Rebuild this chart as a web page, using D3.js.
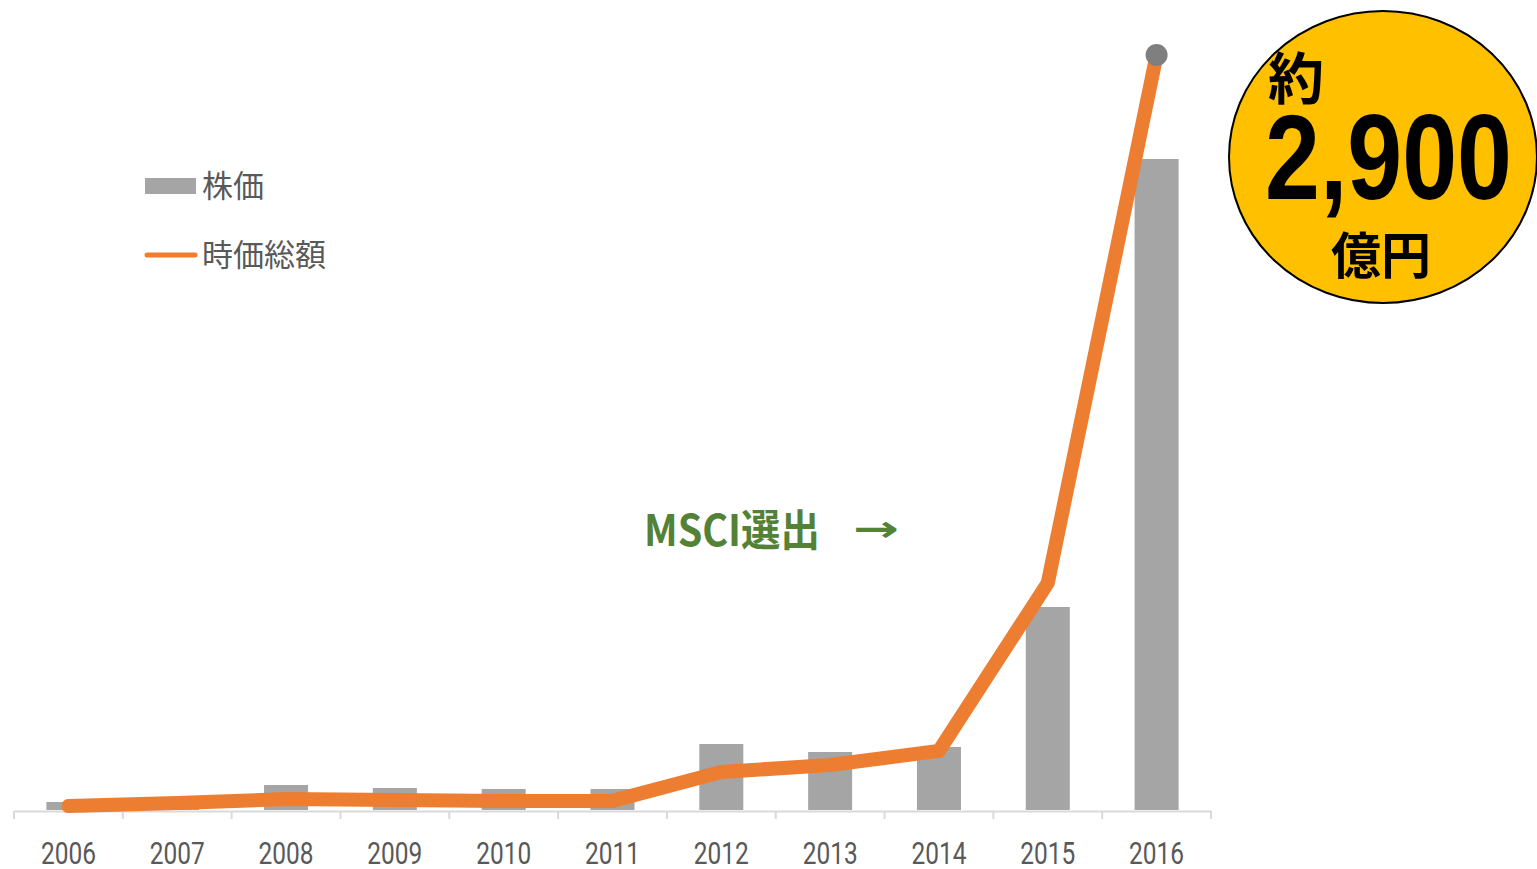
<!DOCTYPE html>
<html>
<head>
<meta charset="utf-8">
<script src="https://cdn.jsdelivr.net/npm/d3@7"></script>
<style>
  body { margin: 0; background: #fff; }
  svg { display: block; }
</style>
</head>
<body>
<script>
const w = 1537, h = 869

const years = ['2006', '2007', '2008', '2009', '2010', '2011', '2012', '2013', '2014', '2015', '2016']
// 株価 (relative)
const price = [80, 50, 250, 220, 210, 210, 660, 580, 630, 2030, 6510]
// 時価総額 (億円)
const marketCap = [15, 27, 42, 38, 35, 35, 146, 173, 227, 872, 2900]
const legendData = ['株価', '時価総額']

const svg = d3.select('body')
    .append('svg')
    .attr('width', w)
    .attr('height', h)

const baseY = 810
const band = d3.scaleBand().domain(years).range([14, 1211])

const yBar = d3.scaleLinear()
    .domain([0, 6510])
    .range([baseY, 159])

const yLine = d3.scaleLinear()
    .domain([0, 2900])
    .range([baseY, 55])

// bars
svg.selectAll('.bar')
    .data(years)
    .enter()
    .append('rect')
    .attr('class', 'bar')
    .attr('x', d => band(d) + band.bandwidth() / 2 - 22)
    .attr('width', 44)
    .attr('y', (d, i) => yBar(price[i]))
    .attr('height', (d, i) => baseY - yBar(price[i]))
    .attr('fill', '#a5a5a5')

// axis
const xAxis = d3.axisBottom(band).tickSize(0).tickPadding(31)
const gx = svg.append('g')
    .attr('transform', 'translate(0,' + (baseY + 1) + ')')
    .call(xAxis)
gx.select('.domain').attr('stroke', '#d9d9d9').attr('stroke-width', 2)
gx.selectAll('.tick text')
    .attr('fill', '#595959')
    .attr('textLength', 55)
    .attr('lengthAdjust', 'spacingAndGlyphs')
    .style('font-family', 'Roboto, sans-serif')
    .style('font-size', '31px')
gx.selectAll('.sep')
    .data(years.concat(['end']))
    .enter()
    .append('line')
    .attr('x1', (d, i) => i < years.length ? band(d) : band.range()[1])
    .attr('x2', (d, i) => i < years.length ? band(d) : band.range()[1])
    .attr('y1', 0)
    .attr('y2', 8)
    .attr('stroke', '#d9d9d9')
    .attr('stroke-width', 2)

// line
const line = d3.line()
    .x((d, i) => band(years[i]) + band.bandwidth() / 2)
    .y(d => yLine(d))

svg.append('path')
    .datum(marketCap)
    .attr('d', line)
    .attr('fill', 'none')
    .attr('stroke', '#ed7d31')
    .attr('stroke-width', 14)
    .attr('stroke-linejoin', 'round')
    .attr('stroke-linecap', 'round')

svg.append('circle')
    .attr('cx', band(years[years.length - 1]) + band.bandwidth() / 2)
    .attr('cy', yLine(marketCap[marketCap.length - 1]))
    .attr('r', 11)
    .attr('fill', '#7f7f7f')

// legend
const legendFont = '"Noto Sans CJK JP", sans-serif'
svg.append('rect')
    .attr('x', 145).attr('y', 178)
    .attr('width', 51).attr('height', 16)
    .attr('fill', '#a5a5a5')
svg.append('line')
    .attr('x1', 147).attr('x2', 195)
    .attr('y1', 255).attr('y2', 255)
    .attr('stroke', '#ed7d31')
    .attr('stroke-width', 5)
    .attr('stroke-linecap', 'round')
svg.selectAll('.legend-text')
    .data(legendData)
    .enter()
    .append('text')
    .attr('class', 'legend-text')
    .attr('x', 202)
    .attr('y', (d, i) => 197 + i * 69)
    .attr('fill', '#595959')
    .style('font-family', legendFont)
    .style('font-size', '31px')
    .text(d => d)

// annotation
svg.append('text')
    .attr('x', 644)
    .attr('y', 546)
    .attr('fill', '#538135')
    .attr('textLength', 176)
    .attr('lengthAdjust', 'spacingAndGlyphs')
    .style('font-family', '"Noto Sans CJK JP", sans-serif')
    .style('font-weight', 'bold')
    .style('font-size', '43px')
    .text('MSCI選出')
svg.append('text')
    .attr('x', 853)
    .attr('y', 541)
    .attr('fill', '#538135')
    .attr('textLength', 46)
    .attr('lengthAdjust', 'spacingAndGlyphs')
    .style('font-family', '"DejaVu Sans", sans-serif')
    .style('font-weight', 'bold')
    .style('font-size', '36px')
    .text('→')

// badge
svg.append('ellipse')
    .attr('cx', 1383).attr('cy', 157)
    .attr('rx', 154).attr('ry', 146)
    .attr('fill', '#ffc000')
    .attr('stroke', '#000')
    .attr('stroke-width', 2)
svg.append('text')
    .attr('x', 1268).attr('y', 99)
    .style('font-family', '"Noto Sans CJK JP", sans-serif')
    .style('font-weight', 'bold')
    .style('font-size', '56px')
    .text('約')
svg.append('text')
    .attr('x', 1265).attr('y', 199)
    .style('font-family', '"Liberation Sans", Arial, sans-serif')
    .style('font-weight', 'bold')
    .style('font-size', '120px')
    .attr('textLength', 247)
    .attr('lengthAdjust', 'spacingAndGlyphs')
    .text('2,900')
svg.append('text')
    .attr('x', 1331).attr('y', 274)
    .style('font-family', '"Noto Sans CJK JP", sans-serif')
    .style('font-weight', 'bold')
    .style('font-size', '50px')
    .text('億円')
</script>
</body>
</html>
